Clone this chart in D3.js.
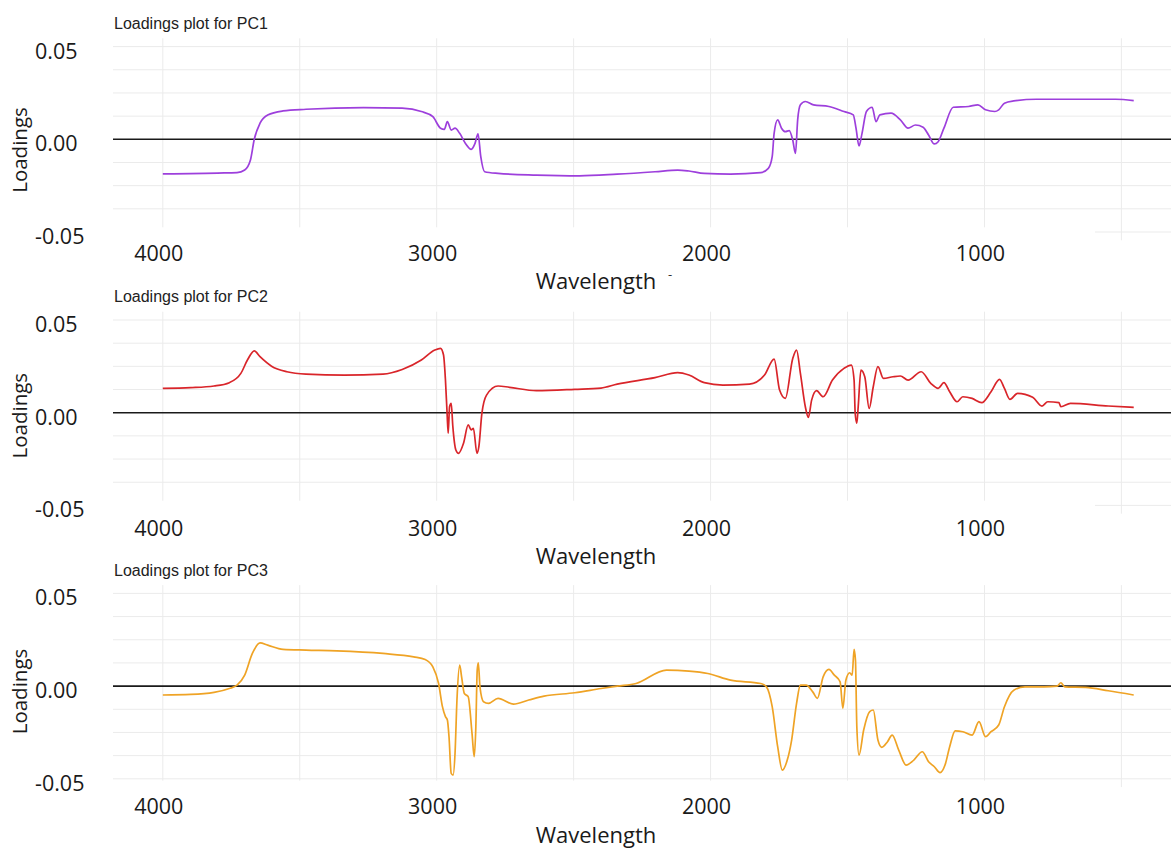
<!DOCTYPE html>
<html>
<head>
<meta charset="utf-8">
<script src="https://cdn.jsdelivr.net/npm/d3@7"></script>
<style>
  html, body { margin: 0; padding: 0; background: #fff; }
  svg { display: block; }
</style>
</head>
<body>
<svg id="chart" width="1171" height="848"></svg>
<script>
// ---- data: loadings of the first three principal components vs wavenumber ----
const pc1Wave = [4000, 3900, 3800, 3729, 3701, 3680, 3666, 3645, 3617, 3561, 3477, 3267, 3126, 3056, 3014, 2986, 2972, 2961, 2947, 2933, 2916, 2895, 2874, 2860, 2849, 2839, 2825, 2776, 2636, 2478, 2341, 2203, 2120, 2079, 2023, 1927, 1817, 1789, 1775, 1768, 1755, 1741, 1727, 1713, 1700, 1690, 1682, 1672, 1654, 1624, 1568, 1513, 1479, 1469, 1458, 1447, 1431, 1410, 1396, 1382, 1341, 1307, 1279, 1252, 1224, 1204, 1183, 1169, 1148, 1114, 1058, 1024, 996, 962, 948, 927, 893, 810, 686, 521, 455];
const pc1Load = [-0.0187, -0.0185, -0.0182, -0.018, -0.0166, -0.0112, 0, 0.0087, 0.0131, 0.0153, 0.0162, 0.0171, 0.0168, 0.015, 0.0122, 0.006, 0.0054, 0.0095, 0.005, 0.006, 0.0032, -0.0022, -0.0054, -0.0022, 0.0029, -0.0094, -0.0175, -0.0184, -0.0193, -0.0197, -0.0188, -0.0175, -0.0166, -0.0171, -0.0184, -0.0188, -0.018, -0.0157, -0.0094, 0.0032, 0.0105, 0.006, 0.0041, 0.0047, -0.0004, -0.0076, 0.0105, 0.0186, 0.0204, 0.0186, 0.0177, 0.015, 0.0132, 0.006, -0.0036, 0.0032, 0.015, 0.0173, 0.0095, 0.0132, 0.0141, 0.0105, 0.006, 0.0077, 0.0065, 0.0023, -0.0025, -0.0013, 0.006, 0.0173, 0.0177, 0.0186, 0.0159, 0.015, 0.0159, 0.0195, 0.0207, 0.0216, 0.0216, 0.0216, 0.0209];

const pc2Wave = [4000, 3898, 3813, 3757, 3715, 3690, 3666, 3645, 3603, 3547, 3477, 3337, 3196, 3126, 3056, 3007, 2986, 2975, 2968, 2962, 2958, 2953, 2947, 2941, 2930, 2920, 2902, 2885, 2874, 2866, 2853, 2846, 2835, 2818, 2776, 2734, 2636, 2496, 2400, 2341, 2203, 2120, 2079, 2023, 1955, 1858, 1803, 1768, 1748, 1727, 1700, 1686, 1672, 1654, 1643, 1631, 1613, 1589, 1555, 1513, 1486, 1476, 1472, 1466, 1461, 1451, 1437, 1421, 1406, 1389, 1369, 1334, 1307, 1279, 1231, 1196, 1169, 1148, 1127, 1100, 1079, 1045, 1010, 976, 945, 927, 907, 879, 824, 790, 769, 728, 721, 686, 548, 455];
const pc2Load = [0.0131, 0.0135, 0.0144, 0.0162, 0.0212, 0.0287, 0.0334, 0.0302, 0.0251, 0.0221, 0.0208, 0.0203, 0.0208, 0.0233, 0.0284, 0.0338, 0.0347, 0.0311, 0.0176, -0.0004, -0.0111, 0.0032, 0.005, -0.0075, -0.0201, -0.0219, -0.0165, -0.0066, -0.0093, -0.0084, -0.0219, -0.0183, -0.0004, 0.0095, 0.0144, 0.0137, 0.0119, 0.0126, 0.0133, 0.0154, 0.0189, 0.0216, 0.0203, 0.0162, 0.0149, 0.0154, 0.0203, 0.0289, 0.0122, 0.0077, 0.0293, 0.0338, 0.0212, 0.0032, -0.0025, 0.0068, 0.0119, 0.0086, 0.0176, 0.0239, 0.0257, 0.0176, -0.0004, -0.0057, 0.0032, 0.023, 0.0194, 0.0023, 0.014, 0.0248, 0.0185, 0.0194, 0.0198, 0.0176, 0.0221, 0.0158, 0.0131, 0.0162, 0.0113, 0.0059, 0.0086, 0.0077, 0.0054, 0.0113, 0.018, 0.0131, 0.0072, 0.0104, 0.0083, 0.0036, 0.0059, 0.0054, 0.0032, 0.005, 0.0036, 0.0029];

const pc3Wave = [4000, 3898, 3813, 3757, 3729, 3701, 3673, 3645, 3617, 3561, 3477, 3365, 3196, 3084, 3042, 3014, 2993, 2979, 2968, 2961, 2955, 2947, 2940, 2933, 2926, 2916, 2909, 2899, 2885, 2871, 2863, 2857, 2852, 2848, 2842, 2829, 2811, 2776, 2720, 2664, 2608, 2496, 2400, 2341, 2272, 2161, 2079, 2010, 1927, 1817, 1796, 1775, 1755, 1738, 1720, 1704, 1686, 1672, 1651, 1627, 1610, 1589, 1568, 1548, 1527, 1517, 1506, 1492, 1483, 1476, 1471, 1466, 1458, 1441, 1419, 1406, 1389, 1375, 1354, 1337, 1313, 1286, 1258, 1227, 1204, 1183, 1162, 1144, 1127, 1107, 1079, 1045, 1020, 996, 976, 948, 927, 893, 852, 783, 735, 721, 707, 631, 548, 455];
const pc3Load = [-0.0048, -0.0045, -0.0034, -0.0013, 0.0005, 0.0059, 0.0176, 0.0233, 0.0221, 0.0198, 0.0194, 0.019, 0.0176, 0.0158, 0.0144, 0.0104, 0.0014, -0.0111, -0.0165, -0.0183, -0.0273, -0.0471, -0.048, -0.0363, -0.0075, 0.0113, 0.005, -0.004, -0.0057, -0.0255, -0.0381, -0.0219, 0.0086, 0.0126, -0.0004, -0.0084, -0.0093, -0.0066, -0.0097, -0.0075, -0.0054, -0.0036, -0.0013, 0, 0.0014, 0.0086, 0.0081, 0.0068, 0.0032, 0.0014, -0.0004, -0.0111, -0.0327, -0.0453, -0.0399, -0.0291, -0.0093, 0.0005, 0.0005, -0.0031, -0.0066, 0.005, 0.009, 0.0059, 0.0023, -0.012, 0.0032, 0.0072, 0.0059, 0.0198, 0.014, -0.0219, -0.0372, -0.0237, -0.0138, -0.0129, -0.0291, -0.033, -0.03, -0.0264, -0.0345, -0.0426, -0.0399, -0.0354, -0.0408, -0.0435, -0.0467, -0.0426, -0.0327, -0.0241, -0.0246, -0.0264, -0.0192, -0.0273, -0.0246, -0.021, -0.0111, -0.0022, -0.0004, -0.0004, 0, 0.0018, -0.0004, -0.0007, -0.0025, -0.0048];

const panelTitles = ["Loadings plot for PC1", "Loadings plot for PC2", "Loadings plot for PC3"];
const seriesColors = ["#9d3fdc", "#d9252a", "#efa325"];
const xTickValues = [4000, 3000, 2000, 1000];
const yTickValues = [0.05, 0, -0.05];
const yTickLabels = ["0.05", "0.00", "-0.05"];
const xGridValues = [4000, 3500, 3000, 2500, 2000, 1500, 1000, 500];
const yGridValues = [0.05, 0.0375, 0.025, 0.0125, 0, -0.0125, -0.025, -0.0375, -0.05];

// ---- layout ----
const W = 1171;
const panelZero = [139.3, 412.7, 686.1];   // y of the zero loading in each panel
const halfSpan = 92.7;                     // px per 0.05
const xTickBase = [121.5, 123.3, 128];     // x tick label baselines below zero
const xTitleBase = [149.7, 151, 157];      // "Wavelength" baselines below zero
const yTitleMid = [10.7, 3, 5.4];          // "Loadings" centre below zero
const coverTop = [88, 88, 94.5];           // label strip top below zero
const plotLeft = 113;

const svg = d3.select("#chart");
svg.append("rect").attr("width", W).attr("height", 848).attr("fill", "#fff");

const x = d3.scaleLinear().domain([4000, 500]).range([162.8, 1121.4]);

const series = [
  pc1Wave.map((w, i) => ({ w, v: pc1Load[i] })),
  pc2Wave.map((w, i) => ({ w, v: pc2Load[i] })),
  pc3Wave.map((w, i) => ({ w, v: pc3Load[i] }))
];

const FONT = "'Open Sans', 'DejaVu Sans', sans-serif";

series.forEach((data, p) => {
  const z = panelZero[p];
  const y = d3.scaleLinear().domain([-0.05, 0.05]).range([z + halfSpan, z - halfSpan]);
  const g = svg.append("g");

  // grid
  g.selectAll("line.hgrid").data(yGridValues.filter(v => v !== 0)).join("line")
    .attr("x1", plotLeft).attr("x2", W)
    .attr("y1", d => y(d)).attr("y2", d => y(d))
    .attr("stroke", "#ebebeb").attr("stroke-width", 1);
  g.selectAll("line.vgrid").data(xGridValues).join("line")
    .attr("x1", d => x(d)).attr("x2", d => x(d))
    .attr("y1", z - 101).attr("y2", z + 101)
    .attr("stroke", "#ebebeb").attr("stroke-width", 1);

  // white strip behind the x tick labels
  g.append("rect")
    .attr("x", 95).attr("width", 1000)
    .attr("y", z + coverTop[p]).attr("height", 16)
    .attr("fill", "#fff");

  // zero reference line
  g.append("line")
    .attr("x1", plotLeft).attr("x2", W)
    .attr("y1", y(0)).attr("y2", y(0))
    .attr("stroke", "#1a1a1a").attr("stroke-width", 1.6);

  // loadings curve
  const line = d3.line().x(d => x(d.w)).y(d => y(d.v)).curve(d3.curveMonotoneX);
  g.append("path").datum(data)
    .attr("d", line)
    .attr("fill", "none")
    .attr("stroke", seriesColors[p])
    .attr("stroke-width", 1.7)
    .attr("stroke-linejoin", "round");

  // panel title
  g.append("text")
    .attr("x", 114).attr("y", z - 110.5)
    .attr("font-family", "'Liberation Sans', Arial, sans-serif")
    .attr("font-size", 16).attr("fill", "#222")
    .text(panelTitles[p]);

  // y tick labels
  g.selectAll("text.ytick").data(yTickValues).join("text")
    .attr("x", 35).attr("y", d => y(d) + 12)
    .attr("font-family", FONT).attr("font-size", 21.5).attr("fill", "#1a1a1a")
    .text((d, i) => yTickLabels[i]);

  // x tick labels
  g.selectAll("text.xtick").data(xTickValues).join("text")
    .attr("x", d => x(d) - 4).attr("y", z + xTickBase[p])
    .attr("text-anchor", "middle")
    .attr("font-family", FONT).attr("font-size", 21.5).attr("fill", "#1a1a1a")
    .text(d => d);

  // axis titles
  g.append("text")
    .attr("x", 596).attr("y", z + xTitleBase[p])
    .attr("text-anchor", "middle")
    .attr("font-family", FONT).attr("font-size", 22).attr("fill", "#1a1a1a")
    .text("Wavelength");
  g.append("text")
    .attr("transform", `translate(26.7,${z + yTitleMid[p]}) rotate(-90)`)
    .attr("text-anchor", "middle")
    .attr("font-family", FONT).attr("font-size", 20.5).attr("fill", "#1a1a1a")
    .text("Loadings");
});

// small superscript dash next to the first axis title
svg.append("text")
  .attr("x", 668).attr("y", 279)
  .attr("font-family", FONT).attr("font-size", 13).attr("fill", "#333")
  .text("-");
</script>
</body>
</html>
